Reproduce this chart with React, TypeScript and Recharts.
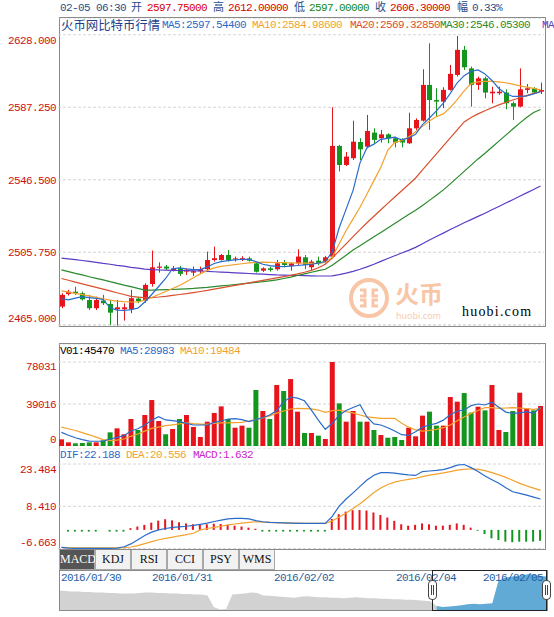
import {
  ComposedChart,
  Bar,
  Line,
  XAxis,
  YAxis,
  CartesianGrid,
  Cell,
  AreaChart,
  Area,
} from 'recharts';

// candle index 0..69 (left to right)
const opens = [
  2475.2, 2482.3, 2483.6, 2482.7, 2478.9, 2474.3, 2478.6, 2476.7, 2473.7, 2473.7,
  2473.7, 2479.7, 2478.6, 2487.9, 2497.0, 2497.7, 2495.8, 2496.7, 2494.9, 2494.3,
  2495.1, 2496.2, 2501.4, 2501.4, 2504.2, 2501.8, 2501.9, 2502.3, 2499.5, 2495.4,
  2496.7, 2496.2, 2499.9, 2498.0, 2499.5, 2502.9, 2497.3, 2501.0, 2500.5, 2503.3,
  2565.5, 2554.8, 2558.6, 2567.7, 2565.1, 2573.0, 2569.8, 2572.0, 2569.8, 2568.9,
  2567.0, 2575.4, 2579.7, 2599.8, 2591.3, 2590.4, 2597.0, 2605.4, 2619.5, 2609.1,
  2599.8, 2603.5, 2595.1, 2595.1, 2595.5, 2589.5, 2587.6, 2597.0, 2597.9, 2596.0,
];
const highs = [
  2482.7, 2484.6, 2486.4, 2483.6, 2481.8, 2480.8, 2481.8, 2479.0, 2479.0, 2477.0,
  2484.6, 2480.8, 2488.3, 2506.7, 2500.1, 2498.6, 2498.0, 2498.0, 2496.7, 2497.7,
  2497.7, 2506.1, 2508.9, 2504.8, 2507.0, 2503.3, 2503.5, 2503.3, 2499.9, 2497.3,
  2497.7, 2501.4, 2501.4, 2499.8, 2507.4, 2504.2, 2501.4, 2503.3, 2503.7, 2587.2,
  2566.1, 2562.1, 2579.7, 2569.8, 2582.9, 2575.4, 2574.5, 2572.6, 2570.7, 2569.8,
  2584.2, 2581.0, 2608.6, 2623.2, 2597.9, 2598.5, 2611.0, 2627.3, 2621.7, 2610.1,
  2604.5, 2604.5, 2598.8, 2598.8, 2597.3, 2590.4, 2609.1, 2600.3, 2598.5, 2601.1,
];
const lows = [
  2474.3, 2481.4, 2481.8, 2478.6, 2473.3, 2473.3, 2476.1, 2464.9, 2464.5, 2467.3,
  2471.5, 2477.1, 2477.4, 2486.4, 2494.3, 2495.8, 2494.9, 2492.4, 2493.0, 2492.4,
  2493.9, 2494.9, 2500.5, 2501.0, 2500.5, 2500.5, 2500.8, 2500.5, 2494.3, 2494.7,
  2494.9, 2495.4, 2497.3, 2495.4, 2498.6, 2496.2, 2495.4, 2498.4, 2499.5, 2502.3,
  2551.1, 2554.2, 2557.6, 2557.6, 2564.2, 2567.0, 2567.4, 2567.0, 2564.7, 2564.7,
  2566.6, 2574.5, 2579.2, 2574.5, 2582.0, 2586.7, 2596.6, 2604.5, 2608.2, 2587.6,
  2597.0, 2592.3, 2589.5, 2594.2, 2586.1, 2580.1, 2587.2, 2595.1, 2594.7, 2594.7,
];
const closes = [
  2481.8, 2483.6, 2482.7, 2479.3, 2474.3, 2478.9, 2477.1, 2471.8, 2474.8, 2474.8,
  2479.9, 2478.2, 2487.4, 2497.3, 2497.7, 2496.6, 2496.7, 2493.6, 2495.9, 2495.1,
  2496.2, 2501.4, 2502.4, 2504.2, 2501.4, 2502.3, 2502.4, 2501.0, 2494.8, 2496.7,
  2495.8, 2499.5, 2498.6, 2499.5, 2503.3, 2498.6, 2500.5, 2499.5, 2502.9, 2565.5,
  2554.8, 2559.5, 2567.9, 2563.6, 2573.9, 2568.9, 2572.0, 2569.8, 2567.4, 2567.4,
  2575.4, 2580.1, 2599.8, 2591.3, 2590.4, 2597.0, 2606.0, 2619.5, 2609.7, 2599.8,
  2603.5, 2595.5, 2596.0, 2596.0, 2589.5, 2587.6, 2597.3, 2597.9, 2595.5, 2596.9,
];

const ma5 = [
  2479.7, 2479.0, 2480.0, 2480.8, 2480.3, 2479.8, 2479.2, 2474.5, 2473.2, 2473.0,
  2473.5, 2474.3, 2477.8, 2482.0, 2486.5, 2491.0, 2496.5, 2497.0, 2496.4, 2496.0,
  2496.0, 2497.5, 2499.4, 2500.5, 2501.0, 2501.5, 2501.8, 2501.8, 2500.5, 2499.0,
  2498.2, 2497.8, 2497.7, 2498.0, 2498.3, 2498.6, 2499.0, 2499.6, 2500.5, 2506.0,
  2519.5, 2530.0, 2540.5, 2556.0, 2564.5, 2566.5, 2569.2, 2569.8, 2570.4, 2568.9,
  2570.0, 2572.0, 2577.5, 2581.2, 2585.2, 2589.5, 2595.0, 2601.0, 2605.0, 2607.5,
  2608.2, 2606.0, 2602.3, 2597.8, 2595.0, 2593.3, 2593.4, 2593.6, 2594.7, 2596.0,
];
const ma10 = [
  2484.0, 2483.3, 2482.6, 2481.9, 2481.2, 2480.4, 2479.6, 2478.8, 2478.3, 2478.0,
  2477.8, 2477.8, 2478.8, 2480.3, 2482.0, 2483.7, 2485.4, 2487.1, 2489.2, 2491.4,
  2493.6, 2495.5, 2497.0, 2497.8, 2498.3, 2498.8, 2499.3, 2499.8, 2500.1, 2500.2,
  2500.1, 2500.0, 2499.9, 2499.8, 2499.7, 2499.6, 2499.5, 2499.5, 2500.0, 2503.0,
  2510.5, 2518.0, 2524.5, 2531.0, 2538.5, 2546.0, 2553.5, 2563.0, 2567.5, 2568.5,
  2570.5, 2573.5, 2576.5, 2579.5, 2582.0, 2583.5, 2587.0, 2591.5, 2596.5, 2600.5,
  2601.5, 2601.8, 2601.8, 2601.5, 2601.0, 2600.2, 2599.3, 2598.6, 2597.8, 2597.0,
];
const ma20 = [
  2491.0, 2490.0, 2489.0, 2488.0, 2487.0, 2486.0, 2485.0, 2484.0, 2483.0, 2482.0,
  2481.0, 2480.5, 2480.2, 2480.3, 2480.6, 2481.0, 2481.5, 2482.0, 2482.5, 2483.1,
  2483.7, 2484.3, 2485.0, 2485.7, 2486.4, 2487.1, 2487.8, 2488.5, 2489.2, 2489.9,
  2490.6, 2491.3, 2492.0, 2492.8, 2493.6, 2494.5, 2495.6, 2497.0, 2499.0, 2502.5,
  2506.5, 2510.5, 2514.5, 2518.5, 2522.3, 2526.0, 2529.6, 2533.2, 2536.8, 2540.3,
  2543.8, 2547.5, 2552.0, 2556.5, 2561.0, 2565.5, 2570.0, 2574.5, 2579.0, 2581.5,
  2583.5, 2585.3, 2587.0, 2588.6, 2590.0, 2591.3, 2592.6, 2593.8, 2595.0, 2596.0,
];
const ma30 = [
  2495.8, 2494.9, 2493.9, 2493.0, 2492.0, 2491.1, 2490.2, 2489.2, 2488.3, 2487.3,
  2486.4, 2485.4, 2484.5, 2484.5, 2484.6, 2484.7, 2484.8, 2485.0, 2485.2, 2485.4,
  2485.7, 2486.0, 2486.4, 2486.8, 2487.2, 2487.6, 2488.0, 2488.4, 2488.8, 2489.2,
  2489.7, 2490.2, 2491.0, 2491.8, 2492.7, 2493.6, 2494.5, 2495.4, 2496.2, 2498.5,
  2501.3, 2504.1, 2507.0, 2509.4, 2511.9, 2514.4, 2516.9, 2519.4, 2521.9, 2524.4,
  2526.9, 2529.3, 2532.0, 2534.9, 2537.8, 2540.8, 2544.2, 2547.7, 2551.2, 2554.7,
  2558.2, 2561.4, 2564.8, 2568.2, 2571.6, 2575.0, 2578.3, 2581.5, 2584.3, 2586.0,
];
const ma60 = [
  2502.4, 2502.0, 2501.6, 2501.1, 2500.6, 2500.1, 2499.5, 2499.0, 2498.4, 2497.9,
  2497.3, 2496.8, 2496.3, 2496.0, 2495.8, 2495.7, 2495.6, 2495.5, 2495.4, 2495.3,
  2495.2, 2495.0, 2494.8, 2494.6, 2494.4, 2494.2, 2494.0, 2493.8, 2493.6, 2493.4,
  2493.2, 2493.0, 2492.9, 2492.8, 2492.7, 2492.6, 2492.5, 2492.4, 2492.4, 2492.5,
  2493.2, 2494.0, 2495.0, 2496.2, 2497.5, 2499.0, 2500.6, 2502.2, 2503.8, 2505.3,
  2506.8, 2508.5, 2510.5, 2512.6, 2514.6, 2516.5, 2518.5, 2520.4, 2522.3, 2524.1,
  2525.9, 2527.7, 2529.6, 2531.5, 2533.4, 2535.3, 2537.2, 2539.1, 2541.0, 2543.0,
];

const volumes = [
  6200, 3400, 2500, 2800, 3400, 3400, 5300, 12700, 16400, 10900,
  25100, 14900, 28800, 42700, 23200, 10900, 15800, 25100, 28800, 17700,
  8400, 22600, 30700, 36800, 25100, 17000, 18900, 17000, 52000, 32500,
  25100, 56700, 51100, 62200, 31900, 12100, 12100, 9600, 6500, 78031,
  39600, 22600, 32500, 22600, 22600, 14900, 10200, 7700, 8400, 5600,
  17000, 9000, 28200, 31900, 18900, 18900, 45500, 41200, 49200, 31000,
  36500, 33100, 56700, 14900, 13000, 32500, 49500, 35000, 33100, 37200,
];
const volMa5 = [
  12700, 10000, 7700, 6000, 4600, 4400, 4600, 6500, 8000, 9600,
  14000, 16000, 19500, 24000, 27300, 24200, 23500, 22600, 21000, 19500,
  19500, 19500, 22000, 23200, 25100, 25400, 24500, 22600, 24500, 26500,
  28800, 33000, 41000, 45500, 44500, 42000, 33400, 24000, 15500, 21000,
  28500, 33000, 35800, 38400, 27000, 20500, 19500, 17000, 13900, 10500,
  9800, 13300, 17500, 19500, 21000, 24000, 29000, 32500, 33400, 37500,
  39000, 38100, 40600, 36000, 31500, 30300, 30800, 31900, 30300, 36000,
];
const volMa10 = [
  17500, 16000, 14400, 12400, 10400, 8200, 6000, 5000, 5500, 6500,
  9000, 11200, 13800, 16400, 17600, 18900, 19700, 20500, 21400, 20800,
  20400, 20100, 21000, 21400, 21400, 21700, 22000, 23200, 24500, 26000,
  28000, 30500, 32500, 34400, 35000, 34700, 34400, 33400, 31200, 32800,
  33400, 31900, 30800, 28800, 27000, 26300, 25700, 25700, 25700, 21100,
  17500, 14900, 13900, 14500, 15400, 17000, 19500, 23500, 27000, 30300,
  33000, 35600, 35600, 35000, 35300, 35600, 35300, 34700, 34000, 35000,
];

const dif = [
  -6.2, -6.5, -6.6, -6.6, -6.6, -6.6, -6.6, -6.6, -6.5, -6.0,
  -5.0, -3.5, -2.0, -0.8, 0.0, 0.5, 0.9, 1.1, 1.3, 1.6,
  2.0, 2.4, 3.0, 3.5, 3.9, 4.1, 4.1, 3.9, 3.3, 2.9,
  2.7, 2.6, 2.5, 2.4, 2.3, 2.3, 2.3, 2.3, 2.3, 4.8,
  8.5, 11.0, 13.2, 15.5, 17.8, 19.5, 20.4, 20.4, 20.2, 19.9,
  19.6, 19.4, 20.8, 21.0, 21.2, 21.5, 22.2, 23.1, 23.3, 22.2,
  20.8, 19.2, 17.9, 16.6, 15.0, 13.6, 13.0, 12.4, 11.7, 11.0,
];
const dea = [
  -6.2, -6.3, -6.4, -6.4, -6.4, -6.4, -6.4, -6.4, -6.4, -6.3,
  -6.1, -5.6, -4.9, -4.2, -3.5, -3.0, -2.6, -2.1, -1.7, -1.2,
  0.0, 0.5, 0.9, 1.3, 1.8, 2.1, 2.4, 2.7, 2.9, 2.8,
  2.7, 2.6, 2.5, 2.4, 2.4, 2.3, 2.3, 2.3, 2.3, 3.2,
  4.6, 6.0, 7.6, 9.3, 11.3, 13.3, 14.9, 16.2, 17.0, 17.6,
  18.0, 18.4, 19.0, 19.5, 19.9, 20.3, 20.8, 21.3, 21.6, 21.8,
  21.6, 21.1, 20.4, 19.6, 18.7, 17.7, 16.6, 15.7, 14.9, 14.1,
];
const macd = [
  0, -0.6, -0.6, -0.6, -0.6, -0.6, 0, -0.6, -0.6, -0.6,
  0.6, 1.2, 1.8, 2.6, 3.3, 3.8, 3.4, 2.7, 2.3, 2.0,
  2.0, 2.0, 2.2, 2.1, 1.8, 1.5, 1.2, 0.8, 0.4, -0.6,
  -0.6, -0.6, -0.6, -0.6, -0.6, -0.6, -0.6, -0.6, -0.6, 3.9,
  5.6, 6.5, 7.0, 7.1, 6.9, 6.2, 5.3, 4.4, 3.2, 2.0,
  1.5, 1.8, 2.3, 2.0, 1.5, 1.5, 1.8, 2.3, 1.8, 0.8,
  -0.3, -1.5, -3.0, -3.6, -4.2, -4.4, -4.2, -4.2, -4.2, -3.9,
];

// navigator strip (whole period, 80 samples)
const navGray = [
  20, 19.5, 19, 19, 18.5, 18.5, 18, 18, 17.5, 17.5,
  17, 17, 17, 17.5, 18, 18, 17.5, 17.5, 17, 17,
  16.5, 16.5, 16, 16, 15, 3, 0.5, 1, 16, 16.5,
  17, 18, 17.5, 15, 14.5, 14, 13.5, 13, 12.5, 13.5,
  14, 13.5, 13, 13, 12.5, 12.5, 12, 12.5, 13, 12.5,
  12, 12, 11.5, 11.5, 11, 11, 10.5, 10.5, 10, 9.5,
  9, 4,
];
const navBlue = [4, 3, 3.5, 4, 5, 6, 6.5, 6, 6.5, 7, 30, 33, 34, 35, 36, 37, 36, 35, 34];
const navDates = ['2016/01/30', '2016/01/31', '2016/02/02', '2016/02/04', '2016/02/05'];
const navDateX = [61, 152, 274, 396, 483];

const RED = '#e8141c';
const GREEN = '#14961e';
const TICK_RED = '#cc1111';
const C_MA5 = '#2a6bc9';
const C_MA10 = '#f2a22c';
const C_MA20 = '#d9502e';
const C_MA30 = '#2b8a2b';
const C_MA60 = '#5b3cc4';
const MONO = "'Liberation Mono', 'Noto Sans CJK SC', monospace";

const rows = opens.map((o, i) => ({
  i,
  o,
  h: highs[i],
  l: lows[i],
  c: closes[i],
  ma5: ma5[i],
  ma10: ma10[i],
  ma20: ma20[i],
  ma30: ma30[i],
  ma60: ma60[i],
  vol: volumes[i],
  vma5: volMa5[i],
  vma10: volMa10[i],
  dif: dif[i],
  dea: dea[i],
  macd: macd[i],
}));

const navRows = Array.from({ length: 80 }, (_, k) => ({
  k,
  gray: k < navGray.length ? navGray[k] : null,
  blue: k >= 61 ? navBlue[k - 61] : null,
}));

const Candle = (props: any) => {
  const { x, y, width, height, payload } = props;
  const top = Math.min(y, y + height);
  const bot = Math.max(y, y + height);
  const { o, h, l, c } = payload;
  const k = (bot - top) / (h - l || 1);
  const py = (v: number) => top + (h - v) * k;
  const color = c >= o ? RED : GREEN;
  const cx = Math.round(x + width / 2) + 0.5;
  const bTop = py(Math.max(o, c));
  const bBot = py(Math.min(o, c));
  return (
    <g>
      <line x1={cx} x2={cx} y1={top} y2={bot} stroke={color} strokeWidth={1} />
      <rect x={cx - 2.5} y={bTop} width={5} height={Math.max(1, bBot - bTop)} fill={color} />
    </g>
  );
};

const axisTick = (fmt: (v: number) => string, shift: Record<string, number>) => (p: any) => {
  const s = fmt(p.payload.value);
  return (
    <text x={56} y={p.y + (shift[s] ?? 0)} dy={4} textAnchor="end" fill={TICK_RED}
      fontFamily={MONO} fontSize={11} style={{ letterSpacing: '-0.6px' }}>
      {s}
    </text>
  );
};

const Txt = ({ x, y, color, children, size = 11, ls = -0.6, family = MONO }: any) => (
  <span style={{
    position: 'absolute', left: x, top: y - 7, lineHeight: '14px', fontFamily: family,
    fontSize: size, letterSpacing: ls, color, whiteSpace: 'nowrap',
  }}>{children}</span>
);

const box = (left: number, top: number, width: number, height: number, extra: any = {}) => ({
  position: 'absolute' as const, left, top, width, height, boxSizing: 'border-box' as const,
  border: '1px solid #8a8a8a', ...extra,
});

export default function App() {
  const tabs = ['MACD', 'KDJ', 'RSI', 'CCI', 'PSY', 'WMS'];
  return (
    <div style={{ position: 'absolute', left: 0, top: 0, width: 554, height: 617, overflow: 'hidden', background: '#fff' }}>
      {/* header line */}
      <Txt x={60} y={8} color="#1f4e8c">02-05 06:30</Txt>
      <Txt x={131} y={8} color="#1f4e8c">开</Txt>
      <Txt x={147} y={8} color="#d40000">2597.75000</Txt>
      <Txt x={213} y={8} color="#1f4e8c">高</Txt>
      <Txt x={228} y={8} color="#d40000">2612.00000</Txt>
      <Txt x={294} y={8} color="#1f4e8c">低</Txt>
      <Txt x={309} y={8} color="#118811">2597.00000</Txt>
      <Txt x={375} y={8} color="#1f4e8c">收</Txt>
      <Txt x={390} y={8} color="#d40000">2606.30000</Txt>
      <Txt x={457} y={8} color="#1f4e8c">幅</Txt>
      <Txt x={472} y={8} color="#1f4e8c">0.33%</Txt>

      {/* main panel */}
      <div style={box(59, 17, 487, 310)} />
      <svg style={{ position: 'absolute', left: 345, top: 276 }} width={110} height={46}>
        <circle cx={24} cy={22} r={18} fill="none" stroke="#f8c6a6" strokeWidth={4} />
        <path d="M15 14 h5 v6 h-5 M15 30 h5 v-6 h-5 M33 14 h-5 v6 h5 M33 30 h-5 v-6 h5" fill="none" stroke="#f8c6a6" strokeWidth={3} />
        <text x={50} y={27} fontSize={24} fontFamily="'Noto Sans CJK SC'" fontWeight={700} fill="#f8c6a6">火币</text>
        <text x={51} y={43} fontSize={9} fontFamily="'Noto Sans'" fill="#f8cdb0">huobi.com</text>
      </svg>
      <Txt x={462} y={312} color="#000" size={14} ls={1.2} family="'Liberation Serif', serif">huobi.com</Txt>
      <div style={{ position: 'absolute', left: 0, top: 18 }}>
        <ComposedChart width={546} height={308} data={rows} margin={{ top: 0, right: 2, bottom: 0, left: 0 }}>
          <CartesianGrid vertical={false} stroke="#d6d6d6" strokeDasharray="3 2" />
          <XAxis dataKey="i" hide />
          <YAxis width={58} domain={[2464.3, 2637.4]} allowDataOverflow ticks={[2465, 2505.75, 2546.5, 2587.25, 2628]}
            interval={0} axisLine={false} tickLine={false}
            tick={axisTick((v) => v.toFixed(3), { '2628.000': 5, '2465.000': -7 })} />
          <Line dataKey="ma60" stroke={C_MA60} strokeWidth={1.2} dot={false} isAnimationActive={false} />
          <Line dataKey="ma30" stroke={C_MA30} strokeWidth={1.2} dot={false} isAnimationActive={false} />
          <Line dataKey="ma20" stroke={C_MA20} strokeWidth={1.2} dot={false} isAnimationActive={false} />
          <Bar dataKey={(d: any) => [d.l, d.h]} barSize={5} shape={<Candle />} isAnimationActive={false} />
          <Line dataKey="ma10" stroke={C_MA10} strokeWidth={1.2} dot={false} isAnimationActive={false} />
          <Line dataKey="ma5" stroke={C_MA5} strokeWidth={1.2} dot={false} isAnimationActive={false} />
        </ComposedChart>
      </div>
      <Txt x={61} y={25} color="#1d3f8a" size={12.4} ls={0} family="'Noto Sans CJK SC'">火币网比特币行情</Txt>
      <Txt x={162} y={25} color={C_MA5}>MA5:2597.54400</Txt>
      <Txt x={252} y={25} color={C_MA10}>MA10:2584.98600</Txt>
      <Txt x={350} y={25} color={C_MA20}>MA20:2569.32850</Txt>
      <Txt x={440} y={25} color={C_MA30}>MA30:2546.05300</Txt>
      <Txt x={542} y={25} color={C_MA60}>MA60</Txt>

      {/* volume + macd panel */}
      <div style={box(59, 343, 487, 207)} />
      <div style={{ position: 'absolute', left: 0, top: 344 }}>
        <ComposedChart width={546} height={102} data={rows} margin={{ top: 0, right: 2, bottom: 0, left: 0 }}>
          <CartesianGrid vertical={false} stroke="#d6d6d6" strokeDasharray="3 2" />
          <XAxis dataKey="i" hide />
          <YAxis width={58} domain={[0, 94760]} allowDataOverflow ticks={[0, 39016, 78031]} interval={0}
            axisLine={false} tickLine={false}
            tick={axisTick((v) => String(v), { '78031': 4, '0': -7 })} />
          <Bar dataKey="vol" barSize={5} isAnimationActive={false}>
            {rows.map((r) => <Cell key={r.i} fill={r.c >= r.o ? RED : GREEN} />)}
          </Bar>
          <Line dataKey="vma10" stroke={C_MA10} strokeWidth={1.2} dot={false} isAnimationActive={false} />
          <Line dataKey="vma5" stroke={C_MA5} strokeWidth={1.2} dot={false} isAnimationActive={false} />
        </ComposedChart>
      </div>
      <Txt x={60} y={351} color="#000">V01:45470</Txt>
      <Txt x={120} y={351} color={C_MA5}>MA5:28983</Txt>
      <Txt x={180} y={351} color={C_MA10}>MA10:19484</Txt>

      <div style={{ position: 'absolute', left: 0, top: 448 }}>
        <ComposedChart width={546} height={101} data={rows} margin={{ top: 0, right: 2, bottom: 0, left: 0 }}>
          <CartesianGrid vertical={false} stroke="#d6d6d6" strokeDasharray="3 2" />
          <XAxis dataKey="i" hide />
          <YAxis width={58} domain={[-6.81, 29.19]} allowDataOverflow ticks={[-6.663, 8.41, 23.484]} interval={0}
            axisLine={false} tickLine={false}
            tick={axisTick((v) => v.toFixed(3), { '23.484': 5, '-6.663': -7 })} />
          <Bar dataKey="macd" barSize={2} isAnimationActive={false}>
            {rows.map((r) => <Cell key={r.i} fill={r.macd >= 0 ? RED : GREEN} />)}
          </Bar>
          <Line dataKey="dea" stroke={C_MA10} strokeWidth={1.2} dot={false} isAnimationActive={false} />
          <Line dataKey="dif" stroke={C_MA5} strokeWidth={1.2} dot={false} isAnimationActive={false} />
        </ComposedChart>
      </div>
      <Txt x={60} y={455} color={C_MA5}>DIF:22.188</Txt>
      <Txt x={126} y={455} color={C_MA10}>DEA:20.556</Txt>
      <Txt x={193} y={455} color="#cc22cc">MACD:1.632</Txt>

      {/* indicator tabs */}
      {tabs.map((t, i) => (
        <div key={t} style={{
          position: 'absolute', left: 59 + i * 36, top: 550, width: 36, height: 20, boxSizing: 'border-box',
          border: '1px solid #a8a8a8', borderTop: 'none', background: i === 0 ? '#555' : '#f2f2f2',
          color: i === 0 ? '#fff' : '#111', fontFamily: "'Liberation Serif', serif", fontSize: 12,
          textAlign: 'center', lineHeight: '19px',
        }}>{t}</div>
      ))}

      {/* navigator */}
      <div style={{ position: 'absolute', left: 59, top: 571 }}>
        <AreaChart width={489} height={39} data={navRows} margin={{ top: 0, right: 0, bottom: 0, left: 0 }}>
          <XAxis dataKey="k" hide />
          <YAxis hide domain={[0, 40]} />
          <Area dataKey="gray" type="linear" stroke="none" fill="#d2d2d2" fillOpacity={1} isAnimationActive={false} />
          <Area dataKey="blue" type="linear" stroke="none" fill="#62aad6" fillOpacity={1} isAnimationActive={false} />
        </AreaChart>
      </div>
      <div style={box(59, 570, 489, 41)} />
      {navDates.map((d, i) => (
        <Txt key={d} x={navDateX[i]} y={578} color="#1f5e9e">{d}</Txt>
      ))}
      <div style={box(432, 570, 115, 41, { border: '1px solid #222' })} />
      {[428, 542].map((hx) => (
        <div key={hx} style={{
          position: 'absolute', left: hx, top: 580, width: 9, height: 20, boxSizing: 'border-box',
          border: '1px solid #444', borderRadius: 4, background: '#fff',
        }}>
          <div style={{ position: 'absolute', left: 2, top: 4, width: 1, height: 10, background: '#444' }} />
          <div style={{ position: 'absolute', left: 4, top: 4, width: 1, height: 10, background: '#444' }} />
        </div>
      ))}
    </div>
  );
}
